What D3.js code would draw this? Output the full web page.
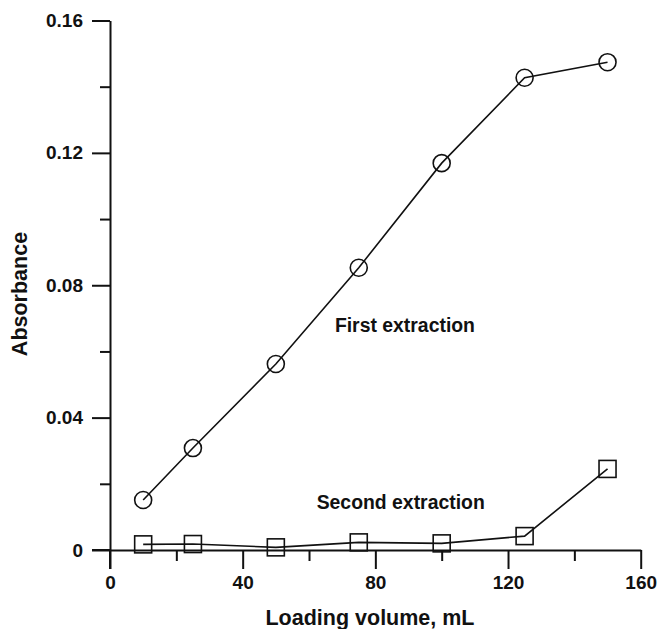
<!DOCTYPE html>
<html>
<head>
<meta charset="utf-8">
<script src="https://cdn.jsdelivr.net/npm/d3@7/dist/d3.min.js"></script>
<style>
  html, body { margin: 0; padding: 0; background: #fff; }
  svg { display: block; }
  text { font-family: "Liberation Sans", Arial, sans-serif; font-weight: bold; fill: #111; }
</style>
</head>
<body>
<script>
// ---- data ----
const volumes = [10, 25, 50, 75, 100, 125, 150];
const firstExtraction = [0.0151, 0.0308, 0.0562, 0.0853, 0.1169, 0.1427, 0.1474];
const secondExtraction = [0.0017, 0.0018, 0.0008, 0.0023, 0.0020, 0.0042, 0.0245];
const xMajorTicks = [0, 40, 80, 120, 160];
const xMinorTicks = [20, 60, 100, 140];
const yMajorTicks = [0, 0.04, 0.08, 0.12, 0.16];
const yMinorTicks = [0.02, 0.06, 0.10, 0.14];
const xTitle = "Loading volume, mL";
const yTitle = "Absorbance";
const labels = [
  { text: "First extraction", x: 67.8, y: 0.0659 },
  { text: "Second extraction", x: 62.3, y: 0.0124 }
];

const W = 661, H = 629;
const svg = d3.select("body").append("svg").attr("width", W).attr("height", H);

const x = d3.scaleLinear().domain([0, 160]).range([110, 640.7]);
const y = d3.scaleLinear().domain([0, 0.16]).range([550, 20.5]);

const fmtY = d => d === 0 ? "0" : d3.format(".2f")(d);
const majorY = 18, minorY = 10, majorX = 19, minorX = 11;

// y axis major
const gy = svg.append("g").attr("transform", `translate(${x(0)},0)`)
  .call(d3.axisLeft(y).tickValues(yMajorTicks).tickFormat(fmtY).tickSize(majorY).tickSizeOuter(0).tickPadding(9));
gy.selectAll("text").style("font-size", "19px");
// y axis minor
svg.append("g").attr("transform", `translate(${x(0)},0)`)
  .call(d3.axisLeft(y).tickValues(yMinorTicks).tickFormat("").tickSize(minorY).tickSizeOuter(0))
  .select(".domain").remove();

// x axis major
const gx = svg.append("g").attr("transform", `translate(0,${y(0)})`)
  .call(d3.axisBottom(x).tickValues(xMajorTicks).tickFormat(d3.format("d")).tickSize(majorX).tickSizeOuter(0).tickPadding(7));
gx.selectAll("text").style("font-size", "19px");
svg.append("g").attr("transform", `translate(0,${y(0)})`)
  .call(d3.axisBottom(x).tickValues(xMinorTicks).tickFormat("").tickSize(minorX).tickSizeOuter(0))
  .select(".domain").remove();

// axis line extensions past the crossing point
svg.append("line").attr("x1", x(0) - majorY).attr("x2", x(0)).attr("y1", y(0)).attr("y2", y(0))
  .attr("class", "ext");
svg.append("line").attr("x1", x(0)).attr("x2", x(0)).attr("y1", y(0)).attr("y2", y(0) + majorX)
  .attr("class", "ext");

svg.selectAll(".tick line, .domain, line.ext").attr("stroke", "#111").attr("stroke-width", 2);

// axis titles
svg.append("text").attr("x", 370).attr("y", 625).attr("text-anchor", "middle")
  .style("font-size", "21.5px").text(xTitle);
svg.append("text").attr("transform", `translate(27,294) rotate(-90)`).attr("text-anchor", "middle")
  .style("font-size", "21.5px").text(yTitle);

// data lines
const line = d3.line().x(d => x(d[0])).y(d => y(d[1]));
const firstData = volumes.map((v, i) => [v, firstExtraction[i]]);
const secondData = volumes.map((v, i) => [v, secondExtraction[i]]);

svg.append("path").datum(firstData).attr("d", line)
  .attr("fill", "none").attr("stroke", "#111").attr("stroke-width", 1.6);
svg.append("path").datum(secondData).attr("d", line)
  .attr("fill", "none").attr("stroke", "#111").attr("stroke-width", 1.6);

svg.selectAll("circle.m").data(firstData).enter().append("circle")
  .attr("cx", d => x(d[0])).attr("cy", d => y(d[1])).attr("r", 8.5)
  .attr("fill", "none").attr("stroke", "#111").attr("stroke-width", 1.6);

const s = 17;
svg.selectAll("rect.m").data(secondData).enter().append("rect")
  .attr("x", d => x(d[0]) - s / 2).attr("y", d => y(d[1]) - s / 2)
  .attr("width", s).attr("height", s)
  .attr("fill", "none").attr("stroke", "#111").attr("stroke-width", 1.6);

// annotations
svg.selectAll("text.lab").data(labels).enter().append("text")
  .attr("x", d => x(d.x)).attr("y", d => y(d.y))
  .style("font-size", "19.4px").text(d => d.text);
</script>
</body>
</html>
